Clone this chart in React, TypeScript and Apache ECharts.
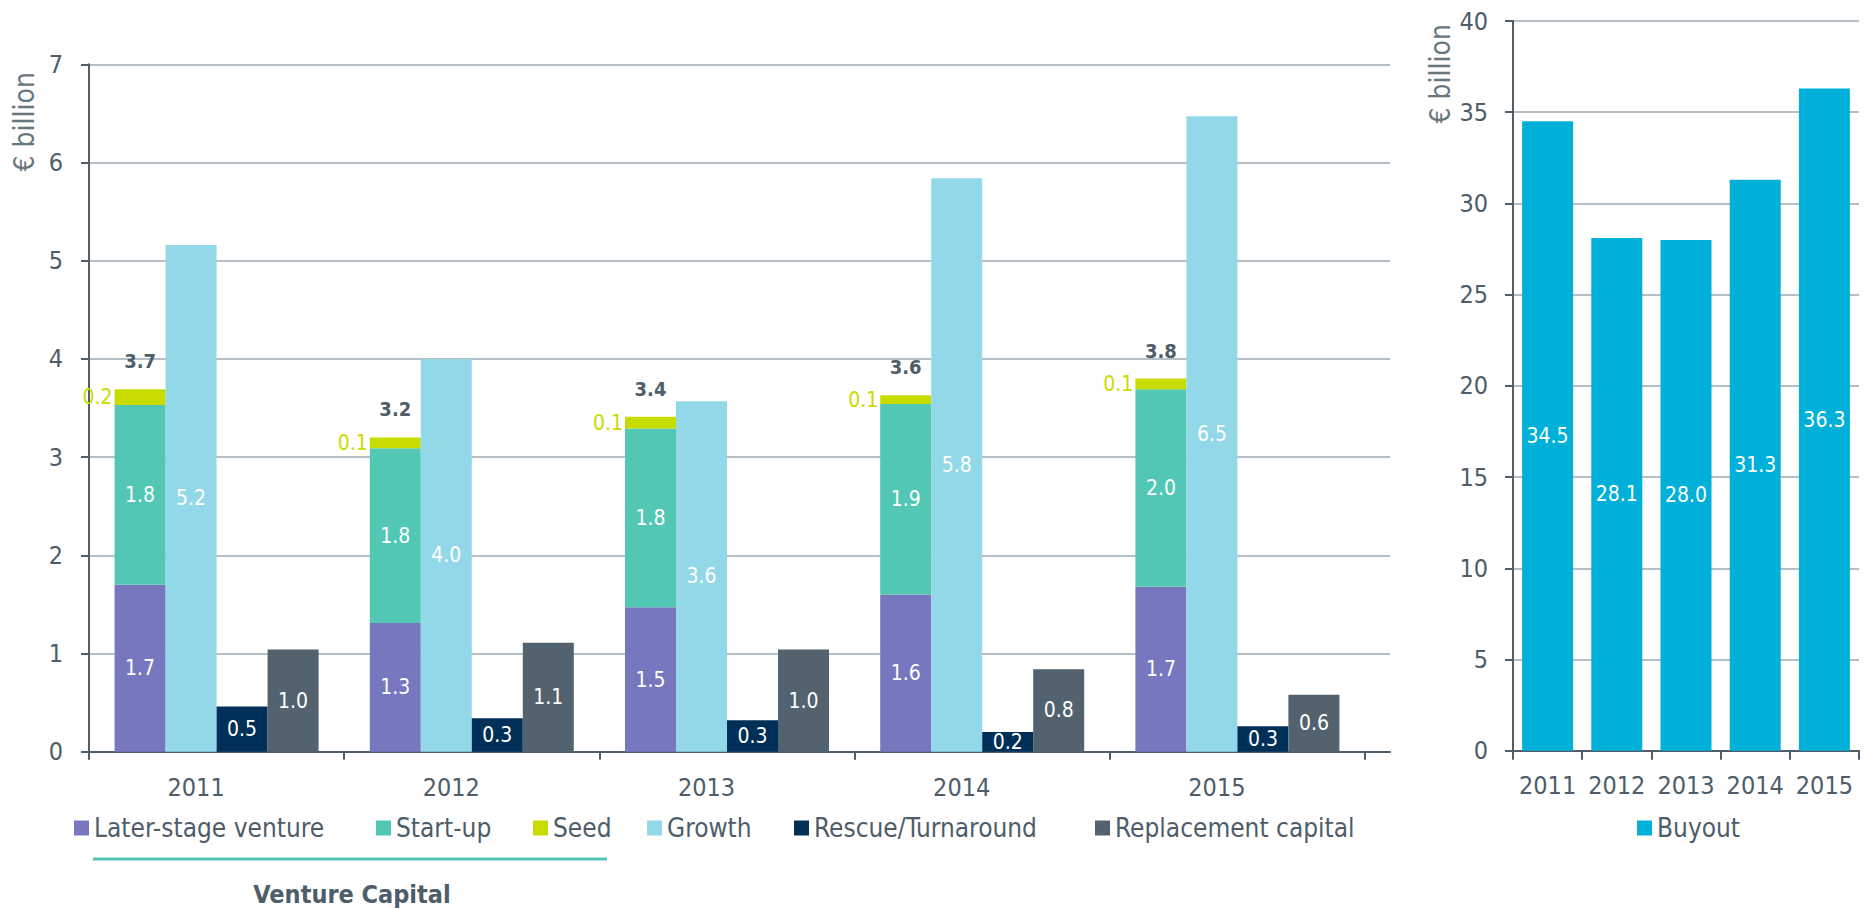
import React, { useEffect, useRef } from "react";
import * as echarts from "echarts";

const years = ["2011", "2012", "2013", "2014", "2015"];
const laterStage = [1.7, 1.31, 1.47, 1.6, 1.68];
const startUp = [1.83, 1.78, 1.82, 1.94, 2.01];
const seed = [0.16, 0.11, 0.12, 0.09, 0.11];
const vcTotals = [3.7, 3.2, 3.4, 3.6, 3.8];
const growth = [5.16, 4.0, 3.57, 5.84, 6.47];
const rescue = [0.46, 0.34, 0.32, 0.2, 0.26];
const replacement = [1.04, 1.11, 1.04, 0.84, 0.58];
const buyout = [34.5, 28.1, 28.0, 31.3, 36.3];
const leftTicks = [0, 1, 2, 3, 4, 5, 6, 7];
const rightTicks = [0, 5, 10, 15, 20, 25, 30, 35, 40];

const FONT = "'DejaVu Sans Condensed', 'Liberation Sans Narrow', 'DejaVu Sans', sans-serif";
const AX = "#4f5e6a";
const TXT = "#4e5d69";
const GRID = "#b4bfc8";
const C = {
  later: "#7777c0",
  start: "#52c8b4",
  seed: "#c8dc00",
  growth: "#93d8e8",
  rescue: "#003057",
  repl: "#52626e",
  buyout: "#00b0d8",
};

const inLabel = {
  show: true,
  position: "inside",
  color: "#ffffff",
  fontSize: 21,
  fontFamily: FONT,
  formatter: (p: any) => Number(p.value).toFixed(1),
};

export default function App() {
  const ref = useRef<HTMLDivElement>(null);
  useEffect(() => {
    if (!ref.current) return;
    const chart = echarts.init(ref.current, undefined, { renderer: "svg" });
    const axisLine = { show: true, lineStyle: { color: AX, width: 2 } };
    const axisTick = (len: number) => ({ show: true, length: len, lineStyle: { color: AX, width: 2 } });
    const legendBase = {
      orient: "horizontal",
      top: 815,
      padding: 0,
      itemWidth: 15,
      itemHeight: 15,
      icon: "rect",
      textStyle: { color: TXT, fontSize: 26, fontFamily: FONT },
      selectedMode: false,
    };
    const legendItems: [string, number][] = [
      ["Later-stage venture", 74],
      ["Start-up", 376],
      ["Seed", 533],
      ["Growth", 647],
      ["Rescue/Turnaround", 794],
      ["Replacement capital", 1095],
      ["Buyout", 1637],
    ];
    chart.setOption({
      animation: false,
      textStyle: { fontFamily: FONT },
      grid: [
        { left: 89, top: 64.3, width: 1276, height: 687.4 },
        { left: 1513, top: 21, width: 346, height: 729.7 },
        { left: 1365, top: 64.3, width: 25, height: 687.4 },
      ],
      legend: legendItems.map(([name, left]) => ({ ...legendBase, left, data: [name] })),
      xAxis: [
        {
          gridIndex: 0,
          type: "category",
          data: years,
          axisLine,
          axisTick: axisTick(8),
          axisLabel: { margin: 23, fontSize: 25, color: TXT, fontFamily: FONT, padding: [0, 41, 0, 0] },
        },
        {
          gridIndex: 1,
          type: "category",
          data: years,
          axisLine,
          axisTick: axisTick(9),
          axisLabel: { interval: 0, hideOverlap: false, margin: 22, fontSize: 25, color: TXT, fontFamily: FONT },
        },
        {
          gridIndex: 2,
          type: "value",
          min: 0,
          max: 1,
          axisLine,
          axisTick: { show: false },
          axisLabel: { show: false },
          splitLine: { show: false },
        },
      ],
      yAxis: [
        {
          gridIndex: 0,
          type: "value",
          min: leftTicks[0],
          max: leftTicks[leftTicks.length - 1],
          interval: 1,
          axisLine,
          axisTick: axisTick(8),
          axisLabel: { margin: 26, fontSize: 25, color: TXT, fontFamily: FONT },
          splitLine: { show: true, lineStyle: { color: GRID, width: 2 } },
        },
        {
          gridIndex: 1,
          type: "value",
          min: rightTicks[0],
          max: rightTicks[rightTicks.length - 1],
          interval: 5,
          axisLine,
          axisTick: axisTick(8),
          axisLabel: { margin: 25, fontSize: 25, color: TXT, fontFamily: FONT },
          splitLine: { show: true, lineStyle: { color: GRID, width: 2 } },
        },
        {
          gridIndex: 2,
          type: "value",
          min: leftTicks[0],
          max: leftTicks[leftTicks.length - 1],
          interval: 1,
          axisLine: { show: false },
          axisTick: { show: false },
          axisLabel: { show: false },
          splitLine: { show: true, lineStyle: { color: GRID, width: 2 } },
        },
      ],
      series: [
        {
          name: "Later-stage venture",
          type: "bar",
          stack: "vc",
          xAxisIndex: 0,
          yAxisIndex: 0,
          barWidth: 51,
          barGap: "0%",
          data: laterStage,
          itemStyle: { color: C.later },
          label: inLabel,
        },
        {
          name: "Start-up",
          type: "bar",
          stack: "vc",
          xAxisIndex: 0,
          yAxisIndex: 0,
          barWidth: 51,
          barGap: "0%",
          data: startUp,
          itemStyle: { color: C.start },
          label: inLabel,
        },
        {
          name: "Seed",
          type: "bar",
          stack: "vc",
          xAxisIndex: 0,
          yAxisIndex: 0,
          barWidth: 51,
          barGap: "0%",
          data: seed,
          itemStyle: { color: C.seed },
          label: {
            show: true,
            position: "left",
            distance: 2,
            color: C.seed,
            fontSize: 21,
            fontFamily: FONT,
            formatter: (p: any) => Number(p.value).toFixed(1),
          },
        },
        {
          name: "VC total",
          type: "bar",
          stack: "vc",
          xAxisIndex: 0,
          yAxisIndex: 0,
          barWidth: 51,
          barGap: "0%",
          data: vcTotals.map(() => 0),
          itemStyle: { color: "rgba(0,0,0,0)" },
          label: {
            show: true,
            position: "top",
            distance: 18,
            color: TXT,
            fontSize: 20,
            fontWeight: "bold",
            fontFamily: FONT,
            formatter: (p: any) => vcTotals[p.dataIndex].toFixed(1),
          },
        },
        {
          name: "Growth",
          type: "bar",
          xAxisIndex: 0,
          yAxisIndex: 0,
          barWidth: 51,
          barGap: "0%",
          data: growth,
          itemStyle: { color: C.growth },
          label: inLabel,
        },
        {
          name: "Rescue/Turnaround",
          type: "bar",
          xAxisIndex: 0,
          yAxisIndex: 0,
          barWidth: 51,
          barGap: "0%",
          data: rescue,
          itemStyle: { color: C.rescue },
          label: inLabel,
        },
        {
          name: "Replacement capital",
          type: "bar",
          xAxisIndex: 0,
          yAxisIndex: 0,
          barWidth: 51,
          barGap: "0%",
          data: replacement,
          itemStyle: { color: C.repl },
          label: inLabel,
        },
        {
          name: "Buyout",
          type: "bar",
          xAxisIndex: 1,
          yAxisIndex: 1,
          barWidth: 51,
          data: buyout,
          itemStyle: { color: C.buyout },
          label: inLabel,
        },
      ],
      graphic: [
        {
          type: "text",
          x: 24,
          y: 72,
          rotation: Math.PI / 2,
          style: {
            text: "€ billion",
            fill: "#67777f",
            font: `28px ${FONT}`,
            align: "right",
            verticalAlign: "middle",
          },
        },
        {
          type: "text",
          x: 1440,
          y: 24,
          rotation: Math.PI / 2,
          style: {
            text: "€ billion",
            fill: "#67777f",
            font: `28px ${FONT}`,
            align: "right",
            verticalAlign: "middle",
          },
        },
        {
          type: "line",
          shape: { x1: 93, y1: 859, x2: 607, y2: 859 },
          style: { stroke: C.start, lineWidth: 3 },
        },
        {
          type: "text",
          x: 352,
          y: 894,
          style: {
            text: "Venture Capital",
            fill: TXT,
            font: `bold 25px ${FONT}`,
            align: "center",
            verticalAlign: "middle",
          },
        },
      ],
    });
    return () => chart.dispose();
  }, []);
  return (
    <div
      ref={ref}
      style={{ position: "absolute", left: 0, top: 0, width: 1874, height: 909, background: "#ffffff" }}
    />
  );
}
